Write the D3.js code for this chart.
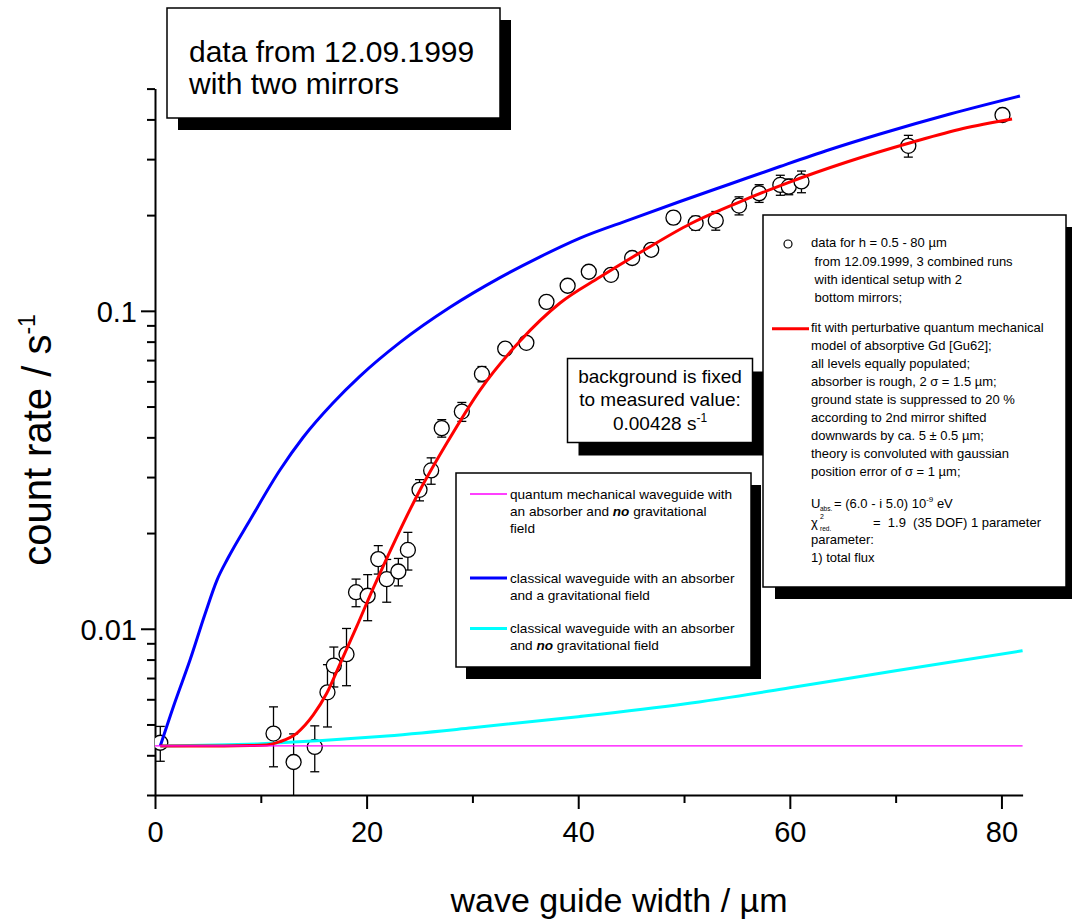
<!DOCTYPE html>
<html><head><meta charset="utf-8">
<script src="https://cdn.jsdelivr.net/npm/d3@7"></script>
<style>
html,body{margin:0;padding:0;background:#fff;}
svg{display:block;font-family:"Liberation Sans",Arial,Helvetica,sans-serif;}
</style></head>
<body>
<svg id="chart" width="1072" height="922"></svg>
<script>
// ---------- data ----------
const pointX   = [0.5, 11.2, 13.1, 15.1, 16.3, 16.9, 18.1, 19.0, 20.1, 21.1, 21.9, 23.0, 23.9, 25.0, 26.1, 27.1, 29.0, 30.9, 33.1, 35.1, 37.0, 39.0, 41.0, 43.1, 45.1, 46.9, 49.0, 51.1, 53.0, 55.2, 57.1, 59.1, 59.9, 61.1, 71.2, 80.1];
const pointY   = [0.00438, 0.00468, 0.00381, 0.00425, 0.00631, 0.00766, 0.00832, 0.01303, 0.01270, 0.01656, 0.01432, 0.01514, 0.01770, 0.02735, 0.03148, 0.04276, 0.04820, 0.0633, 0.0760, 0.0793, 0.1067, 0.1199, 0.1327, 0.1298, 0.1466, 0.1556, 0.1964, 0.1888, 0.1923, 0.2143, 0.2343, 0.2489, 0.2458, 0.2552, 0.3304, 0.4130];
const pointErr = [0.00055, 0.0010, 0.00086, 0.0007, 0.0014, 0.0011, 0.0017, 0.0013, 0.0021, 0.0017, 0.0022, 0.0015, 0.0024, 0.0021, 0.0030, 0.0027, 0.0033, 0.0035, 0.0030, 0.0030, 0.0030, 0.0040, 0.0040, 0.0045, 0.0040, 0.0045, 0.0090, 0.0095, 0.0130, 0.0140, 0.0150, 0.0180, 0.0140, 0.0200, 0.0260, 0.0060];

// red: fit, perturbative QM model
const fitX = [0.5, 5, 9, 10.56, 11.81, 13.39, 14.96, 16.23, 17.48, 19.06, 20.63, 21.27, 25.05, 27.57, 30.72, 34.5, 38.28, 42.06, 46.41, 50.56, 55.01, 59.73, 65.4, 71.64, 76.37, 81.0];
const fitY = [0.00428, 0.00428, 0.00429, 0.004309, 0.004413, 0.00469, 0.005355, 0.006266, 0.007746, 0.01015, 0.01343, 0.01497, 0.02732, 0.03832, 0.05634, 0.08036, 0.1058, 0.1277, 0.1564, 0.1875, 0.2183, 0.2523, 0.2938, 0.3396, 0.3744, 0.4012];

// blue: classical waveguide with absorber and gravitational field
const classGravX = [0.5, 1.89, 3.31, 4.73, 5.86, 6.9, 8.98, 11.81, 13.99, 16.82, 19.38, 23.16, 27.88, 32.61, 36.39, 40.17, 44.89, 49.62, 54.35, 59.07, 63.8, 68.52, 75.14, 81.75];
const classGravY = [0.00428, 0.005884, 0.007975, 0.01113, 0.01423, 0.01669, 0.02198, 0.03157, 0.03995, 0.05129, 0.06233, 0.07956, 0.1026, 0.1272, 0.1479, 0.1694, 0.1937, 0.2207, 0.2506, 0.2844, 0.3216, 0.3598, 0.4159, 0.4739];

// cyan: classical waveguide with absorber, no gravitational field
const classNoGravX = [0.5, 10, 21.25, 30, 40, 50, 60, 70, 82];
const classNoGravY = [0.00428, 0.00435, 0.00458, 0.00488, 0.00529, 0.00580, 0.00652, 0.00738, 0.00853];

// magenta: quantum mechanical waveguide, no gravitational field
const qmNoGravX = [0, 82];
const qmNoGravY = [0.00428, 0.00428];

const xMajorTicks = [0, 20, 40, 60, 80];
const xMinorTicks = [10, 30, 50, 70];
const yMajorTicks = [0.01, 0.1];
const yMajorLabels = ["0.01", "0.1"];
const yMinorTicks = [0.003,0.004,0.005,0.006,0.007,0.008,0.009,0.02,0.03,0.04,0.05,0.06,0.07,0.08,0.09,0.2,0.3,0.4,0.5];

// ---------- drawing ----------
const svg = d3.select("#chart");
const x = d3.scaleLinear().domain([0, 82]).range([155, 1022.6]);
const y = d3.scaleLog().domain([0.003, 0.5]).range([795, 88.6]);
const FONT = '"Liberation Sans",Arial,Helvetica,sans-serif';

// axes
const gx = svg.append("g").attr("transform", `translate(0,${y(0.003)})`);
gx.call(d3.axisBottom(x).tickValues(xMajorTicks).tickSize(14).tickSizeOuter(0).tickFormat(d3.format("d")));
gx.append("g").call(d3.axisBottom(x).tickValues(xMinorTicks).tickSize(8).tickSizeOuter(0).tickFormat(""))
  .select(".domain").remove();
const gy = svg.append("g").attr("transform", `translate(${x(0)},0)`);
gy.call(d3.axisLeft(y).tickValues(yMajorTicks).tickSize(14).tickSizeOuter(0).tickPadding(4)
  .tickFormat((d, i) => yMajorLabels[i]));
gy.append("g").call(d3.axisLeft(y).tickValues(yMinorTicks).tickSize(8).tickSizeOuter(0).tickFormat(""))
  .select(".domain").remove();
svg.selectAll(".domain").attr("stroke", "#000").attr("stroke-width", 2);
svg.selectAll(".tick line").attr("stroke", "#000").attr("stroke-width", 2);
svg.selectAll(".tick text").attr("font-family", FONT).attr("font-size", 29).attr("fill", "#000");
gx.selectAll(".tick text").attr("y", 47).attr("dy", 0);
gy.selectAll(".tick text").attr("x", -18).attr("dy", "0.36em");

// axis titles
svg.append("text").attr("x", 619).attr("y", 912).attr("text-anchor", "middle")
  .attr("font-family", FONT).attr("font-size", 34).text("wave guide width / µm");
const yl = svg.append("text").attr("transform", "translate(51,440) rotate(-90)").attr("text-anchor", "middle")
  .attr("font-family", FONT).attr("font-size", 40);
yl.append("tspan").text("count rate / s");
yl.append("tspan").attr("dy", -16).attr("font-size", 23).text("-1");

// clip
svg.append("clipPath").attr("id", "plotclip").append("rect")
  .attr("x", x(0)).attr("y", 0).attr("width", 1072 - x(0)).attr("height", y(0.003));

const plot = svg.append("g").attr("clip-path", "url(#plotclip)");

// error bars
const pts = pointX.map((d, i) => ({x: d, y: pointY[i], e: pointErr[i]}));
const eb = plot.append("g").attr("stroke", "#000").attr("stroke-width", 1.3).attr("fill", "none");
pts.forEach(p => {
  const y1 = y(p.y + p.e), y0 = y(Math.max(p.y - p.e, 0.0025));
  const cx = x(p.x);
  eb.append("line").attr("x1", cx).attr("x2", cx).attr("y1", y1).attr("y2", y0);
  eb.append("line").attr("x1", cx - 4.5).attr("x2", cx + 4.5).attr("y1", y1).attr("y2", y1);
  eb.append("line").attr("x1", cx - 4.5).attr("x2", cx + 4.5).attr("y1", y0).attr("y2", y0);
});
plot.append("g").selectAll("circle").data(pts).join("circle")
  .attr("cx", d => x(d.x)).attr("cy", d => y(d.y)).attr("r", 7.5)
  .attr("fill", "#fff").attr("stroke", "#000").attr("stroke-width", 1.3);

// curves
const line = d3.line().x(d => x(d[0])).y(d => y(d[1])).curve(d3.curveMonotoneX);
function drawCurve(xs, ys, color, w) {
  plot.append("path").datum(xs.map((d, i) => [d, ys[i]]))
    .attr("d", line).attr("fill", "none").attr("stroke", color).attr("stroke-width", w);
}
drawCurve(classNoGravX, classNoGravY, "#00ffff", 3);
drawCurve(classGravX, classGravY, "#0000ff", 3);
drawCurve(fitX, fitY, "#ff0000", 3);
drawCurve(qmNoGravX, qmNoGravY, "#ff00ff", 1.3);

// ---------- boxes ----------
function box(x0, y0, w, h, dx, dy) {
  svg.append("rect").attr("x", x0 + dx).attr("y", y0 + dy).attr("width", w).attr("height", h).attr("fill", "#000");
  svg.append("rect").attr("x", x0).attr("y", y0).attr("width", w).attr("height", h)
    .attr("fill", "#fff").attr("stroke", "#000").attr("stroke-width", 1.5);
}
function txt(xp, yp, s, size, anchor) {
  return svg.append("text").attr("x", xp).attr("y", yp).attr("font-family", FONT)
    .attr("font-size", size).attr("text-anchor", anchor || "start").attr("fill", "#000").text(s);
}

// title box
box(167, 8, 333, 110, 11, 12);
txt(189, 62, "data from 12.09.1999", 30);
txt(189, 94, "with two mirrors", 30);

// background box
box(567.5, 358.5, 185, 84, 11, 13);
txt(660, 383, "background is fixed", 19, "middle");
txt(660, 406, "to measured value:", 19, "middle");
const bgt = txt(660, 430, "0.00428 s", 19, "middle");
bgt.append("tspan").attr("dy", -8).attr("font-size", 12).text("-1");

// middle legend
box(456, 473, 295, 194, 10, 12);
const legX = 510;
svg.append("line").attr("x1", 470).attr("x2", 507).attr("y1", 494).attr("y2", 494).attr("stroke", "#ff00ff").attr("stroke-width", 1.5);
txt(legX, 498.5, "quantum mechanical waveguide with", 13.6);
const l2 = txt(legX, 515.5, "an absorber and ", 13.6);
l2.append("tspan").attr("font-weight", "bold").attr("font-style", "italic").text("no");
l2.append("tspan").text(" gravitational");
txt(legX, 532.5, "field", 13.6);
svg.append("line").attr("x1", 470).attr("x2", 507).attr("y1", 578).attr("y2", 578).attr("stroke", "#0000ff").attr("stroke-width", 3);
txt(legX, 582.7, "classical waveguide with an absorber", 13.6);
txt(legX, 599.5, "and a gravitational field", 13.6);
svg.append("line").attr("x1", 470).attr("x2", 507).attr("y1", 628.5).attr("y2", 628.5).attr("stroke", "#00ffff").attr("stroke-width", 3);
txt(legX, 633.3, "classical waveguide with an absorber", 13.6);
const l6 = txt(legX, 650, "and ", 13.6);
l6.append("tspan").attr("font-weight", "bold").attr("font-style", "italic").text("no");
l6.append("tspan").text(" gravitational field");

// big legend
box(763, 215, 303, 372, 12, 12);
svg.append("circle").attr("cx", 788).attr("cy", 244).attr("r", 4).attr("fill", "none").attr("stroke", "#000").attr("stroke-width", 1.2);
const bx = 811, fs = 13;
txt(bx, 247.3, "data for h = 0.5 - 80 µm", fs);
txt(bx, 265.6, "\u00a0from 12.09.1999, 3 combined runs", fs);
txt(bx, 283.9, "\u00a0with identical setup with 2", fs);
txt(bx, 302.2, "\u00a0bottom mirrors;", fs);
svg.append("line").attr("x1", 772).attr("x2", 809).attr("y1", 328.7).attr("y2", 328.7).attr("stroke", "#ff0000").attr("stroke-width", 3);
const fitLines = ["fit with perturbative quantum mechanical", "model of absorptive Gd [Gu62];", "all levels equally populated;",
  "absorber is rough, 2 \u03c3 = 1.5 µm;", "ground state is suppressed to 20 %", "according to 2nd mirror shifted",
  "downwards by ca. 5 \u00b1 0.5 µm;", "theory is convoluted with gaussian", "position error of \u03c3 = 1 µm;"];
fitLines.forEach((s, i) => txt(bx, 332 + i * 18, s, fs));
txt(bx, 508, "U", fs);
txt(820, 511, "abs.", 6.5);
const ut = txt(834, 508, "= (6.0 - i 5.0) 10", fs);
ut.append("tspan").attr("dy", -6).attr("font-size", 8).text("-9");
ut.append("tspan").attr("dy", 6).text(" eV");
txt(bx, 527, "\u03c7", fs);
txt(820, 518.5, "2", 7);
txt(820, 531, "red.", 6.5);
txt(873, 527, "=  1.9  (35 DOF) 1 parameter", fs).style("white-space", "pre");
txt(bx, 543.5, "parameter:", fs);
txt(bx, 561.8, "1) total flux", fs);
</script>
</body></html>
